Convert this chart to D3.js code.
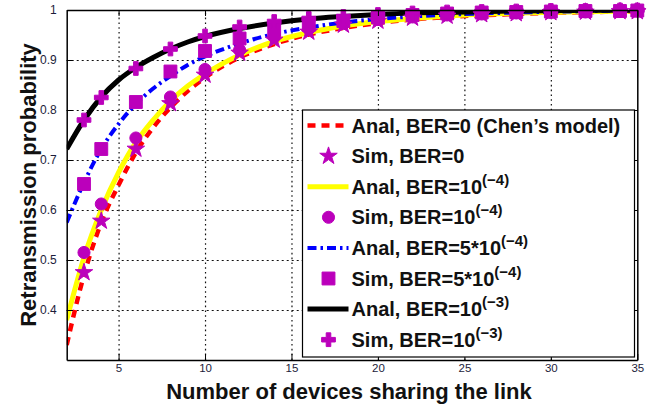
<!DOCTYPE html>
<html>
<head>
<meta charset="utf-8">
<script src="https://cdnjs.cloudflare.com/ajax/libs/d3/7.8.5/d3.min.js"></script>
<style>
  body { margin: 0; background: #fff; }
  text { font-family: "Liberation Sans", Arial, sans-serif; }
</style>
</head>
<body>
<script>
// number of devices where the analytic curves were read
const devicesAnal = [2, 3, 4, 5, 6, 7, 8, 9, 10, 12, 14, 16, 18, 20, 22, 25, 28, 31, 35];
const analBer0    = [0.33, 0.47, 0.575, 0.65, 0.715, 0.765, 0.805, 0.838, 0.865, 0.905, 0.932, 0.951, 0.964, 0.974, 0.981, 0.988, 0.992, 0.995, 0.997];
const analBer1e4  = [0.38, 0.505, 0.60, 0.675, 0.735, 0.78, 0.818, 0.848, 0.872, 0.91, 0.937, 0.955, 0.968, 0.977, 0.983, 0.99, 0.994, 0.996, 0.998];
const analBer5e4  = [0.575, 0.655, 0.722, 0.772, 0.812, 0.843, 0.868, 0.89, 0.907, 0.933, 0.952, 0.965, 0.975, 0.982, 0.987, 0.992, 0.995, 0.997, 0.999];
const analBer1e3  = [0.722, 0.78, 0.826, 0.86, 0.885, 0.905, 0.922, 0.936, 0.947, 0.963, 0.974, 0.982, 0.987, 0.991, 0.994, 0.996, 0.998, 0.999, 0.9995];

// simulation points
const devicesSim = [3, 4, 6, 8, 10, 12, 14, 16, 18, 20, 22, 24, 26, 28, 30, 32, 34, 35];
const simBer0    = [0.475, 0.578, 0.722, 0.813, 0.87, 0.914, 0.94, 0.956, 0.97, 0.978, 0.984, 0.988, 0.991, 0.993, 0.995, 0.996, 0.997, 0.997];
const simBer1e4  = [0.515, 0.612, 0.744, 0.826, 0.881, 0.92, 0.946, 0.962, 0.973, 0.981, 0.986, 0.99, 0.992, 0.994, 0.995, 0.996, 0.997, 0.998];
const simBer5e4  = [0.652, 0.722, 0.816, 0.877, 0.918, 0.943, 0.96, 0.97, 0.978, 0.985, 0.99, 0.993, 0.995, 0.996, 0.997, 0.998, 0.998, 0.999];
const simBer1e3  = [0.78, 0.825, 0.883, 0.922, 0.948, 0.966, 0.977, 0.983, 0.987, 0.991, 0.994, 0.996, 0.997, 0.998, 0.999, 0.999, 1.0, 1.0];

const xTicks = [5, 10, 15, 20, 25, 30, 35];
const yTicks = [0.4, 0.5, 0.6, 0.7, 0.8, 0.9, 1];

const legendMain = ["Anal, BER=0 (Chen\u2019s model)", "Sim, BER=0", "Anal, BER=10", "Sim, BER=10",
                    "Anal, BER=5*10", "Sim, BER=5*10", "Anal, BER=10", "Sim, BER=10"];
const legendSup  = ["", "", "(\u22124)", "(\u22124)", "(\u22124)", "(\u22124)", "(\u22123)", "(\u22123)"];

const w = 668;
const h = 408;
const padL = 66.7, padR = 637.3, padT = 10, padB = 360;
const purple = "#bb00bb";

const xScale = d3.scaleLinear().domain([2, 35]).range([padL, padR]);
const yScale = d3.scaleLinear().domain([0.3, 1]).range([padB, padT]);

const svg = d3.select("body").append("svg")
  .attr("width", w)
  .attr("height", h);

// grid
svg.append("g")
  .attr("transform", "translate(0," + padB + ")")
  .call(d3.axisBottom(xScale).tickValues([5, 10, 15, 20, 25, 30]).tickSize(-(padB - padT)).tickFormat(""))
  .call(g => g.select(".domain").remove())
  .selectAll("line").attr("stroke", "#111").attr("stroke-width", 1.2).attr("stroke-dasharray", "1.6,3.2");

svg.append("g")
  .attr("transform", "translate(" + padL + ",0)")
  .call(d3.axisLeft(yScale).tickValues([0.4, 0.5, 0.6, 0.7, 0.8, 0.9]).tickSize(-(padR - padL)).tickFormat(""))
  .call(g => g.select(".domain").remove())
  .selectAll("line").attr("stroke", "#111").attr("stroke-width", 1.2).attr("stroke-dasharray", "2,3");

// curves
svg.append("clipPath").attr("id", "plot")
  .append("rect").attr("x", padL).attr("y", padT).attr("width", padR - padL).attr("height", padB - padT);

const line = d3.line()
  .x(d => xScale(d[0]))
  .y(d => yScale(d[1]))
  .curve(d3.curveMonotoneX);

const analSeries = [
  { values: analBer0,   color: "#ff0000", width: 4.5, dash: "8,6" },
  { values: analBer1e4, color: "#ffff00", width: 5,   dash: null },
  { values: analBer5e4, color: "#0000ff", width: 4,   dash: "9,4,2.5,4" },
  { values: analBer1e3, color: "#000000", width: 5,   dash: null }
];
const simSeries = [
  { values: simBer0,   symbol: d3.symbolStar,   size: 95 },
  { values: simBer1e4, symbol: d3.symbolCircle, size: 115 },
  { values: simBer5e4, symbol: d3.symbolSquare, size: 165 },
  { values: simBer1e3, symbol: d3.symbolCross,  size: 105 }
];

const plot = svg.append("g").attr("clip-path", "url(#plot)");

analSeries.forEach((s, i) => {
  plot.append("path")
    .datum(devicesAnal.map((n, j) => [n, s.values[j]]))
    .attr("fill", "none")
    .attr("stroke", s.color)
    .attr("stroke-width", s.width)
    .attr("stroke-dasharray", s.dash)
    .attr("d", line);

  const sim = simSeries[i];
  svg.append("g").selectAll("path")
    .data(devicesSim.map((n, j) => [n, sim.values[j]]))
    .enter()
    .append("path")
    .attr("transform", d => "translate(" + xScale(d[0]) + "," + yScale(d[1]) + ")")
    .attr("d", d3.symbol(sim.symbol, sim.size))
    .attr("fill", purple)
    .attr("stroke", purple)
    .attr("stroke-width", 1);
});

// axes box with inward ticks
const xAxis = d3.axisBottom(xScale).tickValues(xTicks).tickSizeInner(-6).tickSizeOuter(0).tickPadding(4);
const yAxis = d3.axisLeft(yScale).tickValues(yTicks).tickSizeInner(-6).tickSizeOuter(0).tickPadding(10)
  .tickFormat(d => d === 1 ? "1" : d3.format(".1f")(d));

svg.append("g")
  .attr("id", "x-axis")
  .attr("transform", "translate(0," + padB + ")")
  .call(xAxis)
  .call(g => g.selectAll("text").attr("font-size", 11.5).attr("fill", "#1c1c3a").attr("font-family", "Liberation Sans, Arial"));

svg.append("g")
  .attr("id", "y-axis")
  .attr("transform", "translate(" + padL + ",0)")
  .call(yAxis)
  .call(g => g.selectAll("text").attr("font-size", 12).attr("fill", "#1c1c3a").attr("font-family", "Liberation Sans, Arial"));

svg.append("g")
  .attr("transform", "translate(0," + padT + ")")
  .call(d3.axisTop(xScale).tickValues(xTicks).tickSizeInner(-6).tickSizeOuter(0).tickFormat(""));

svg.append("g")
  .attr("transform", "translate(" + padR + ",0)")
  .call(d3.axisRight(yScale).tickValues(yTicks).tickSizeInner(-6).tickSizeOuter(0).tickFormat(""));

svg.selectAll(".domain").attr("stroke", "#000").attr("stroke-width", 1.5);

// legend
const lx = 302.5, ly = 110, lw = 332, lh = 247;
const legend = svg.append("g");
legend.append("rect")
  .attr("x", lx).attr("y", ly).attr("width", lw).attr("height", lh)
  .attr("fill", "#fff").attr("stroke", "#000").attr("stroke-width", 1.2);

legendMain.forEach((label, i) => {
  const cy = ly + 15.5 + i * 30.6;
  if (i % 2 === 0) {
    const s = analSeries[i / 2];
    legend.append("line")
      .attr("x1", lx + 5).attr("x2", lx + 46).attr("y1", cy).attr("y2", cy)
      .attr("stroke", s.color).attr("stroke-width", s.width).attr("stroke-dasharray", s.dash);
  } else {
    const s = simSeries[(i - 1) / 2];
    legend.append("path")
      .attr("transform", "translate(" + (lx + 26) + "," + cy + ")")
      .attr("d", d3.symbol(s.symbol, s.size))
      .attr("fill", purple).attr("stroke", purple);
  }
  const t = legend.append("text")
    .attr("x", lx + 49).attr("y", cy + 7)
    .attr("font-size", 20).attr("font-weight", "bold").attr("fill", "#111")
    .text(label);
  if (legendSup[i]) {
    t.append("tspan").attr("dy", -9).attr("font-size", 15).text(legendSup[i]);
  }
});

// axis titles
svg.append("text")
  .attr("x", 349).attr("y", 399)
  .attr("text-anchor", "middle")
  .attr("font-size", 22).attr("font-weight", "bold").attr("fill", "#111")
  .text("Number of devices sharing the link");

svg.append("text")
  .attr("transform", "translate(36," + ((padT + padB) / 2) + ") rotate(-90)")
  .attr("text-anchor", "middle")
  .attr("font-size", 22).attr("font-weight", "bold").attr("fill", "#111")
  .text("Retransmission probability");
</script>
</body>
</html>
